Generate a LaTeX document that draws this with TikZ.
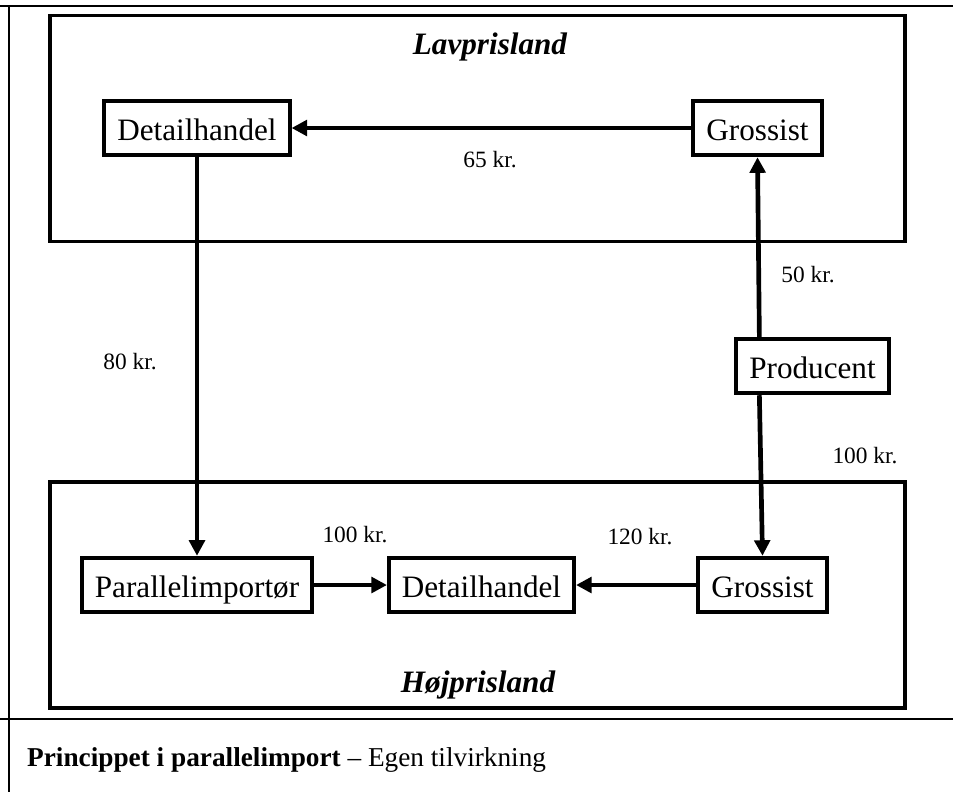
\documentclass[tikz,border=0pt]{standalone}
\usepackage{fontspec}
\setmainfont{Liberation Serif}
\usepackage{tikz}
\usetikzlibrary{arrows.meta,positioning,calc}

\begin{document}
\begin{tikzpicture}[x=0.385pt, y=-0.385pt, >={Triangle[length=6pt,width=6pt]},
    box/.style={draw, line width=1.5pt, inner xsep=5pt, inner ysep=0pt, minimum height=21pt, text height=10.5pt, text depth=1pt, font=\fontsize{12}{14}\selectfont},
    land/.style={draw, line width=1.4pt, minimum width=329pt, minimum height=87pt},
    price/.style={font=\fontsize{9}{11}\selectfont},
    flow/.style={->, line width=1.8pt}]
    \useasboundingbox (0,0) rectangle (953,792);
    % table rules
    \draw[line width=0.8pt] (0,6) -- (953,6);
    \draw[line width=0.7pt] (9,6) -- (9,792);
    \draw[line width=0.8pt] (0,719) -- (953,719);
    % the two countries
    \node[land] (lav) at (477.5,128.5) {};
    \node[land] (hoj) at (477.5,595) {};
    \node[font=\bfseries\itshape\fontsize{12}{14}\selectfont] (lavtitle) at (490,47) {Lavprisland};
    \node[font=\bfseries\itshape\fontsize{12}{14}\selectfont] (hojtitle) at (478,685) {Højprisland};
    % actors
    \node[box] (det1) at (197,128) {Detailhandel};
    \node[box] (gros1) at (757.5,128) {Grossist};
    \node[box] (prod) at (812.5,366) {Producent};
    \node[box] (par) at (197,585) {Parallelimportør};
    \node[box] (det2) at (481.5,585) {Detailhandel};
    \node[box] (gros2) at (762.5,585) {Grossist};
    % flows
    \draw[flow] (gros1) -- (det1);
    \draw[flow] (det1.south) -- (par.north);
    \draw[flow] ($(prod.north west)+(25,0)$) -- (gros1.south);
    \draw[flow] ($(prod.south west)+(25,0)$) -- (gros2.north);
    \draw[flow] (par) -- (det2);
    \draw[flow] (gros2) -- (det2);
    % prices
    \node[price] (p65) at (490,160) {65 kr.};
    \node[price] (p50) at (808,275) {50 kr.};
    \node[price] (p100a) at (865,456) {100 kr.};
    \node[price] (p80) at (130,362) {80 kr.};
    \node[price] (p100b) at (355,535) {100 kr.};
    \node[price] (p120) at (640,537) {120 kr.};
    \node[anchor=west, font=\fontsize{10.5}{12}\selectfont] (caption) at (18,760) {\textbf{Princippet i parallelimport} -- Egen tilvirkning};
\end{tikzpicture}
\end{document}
